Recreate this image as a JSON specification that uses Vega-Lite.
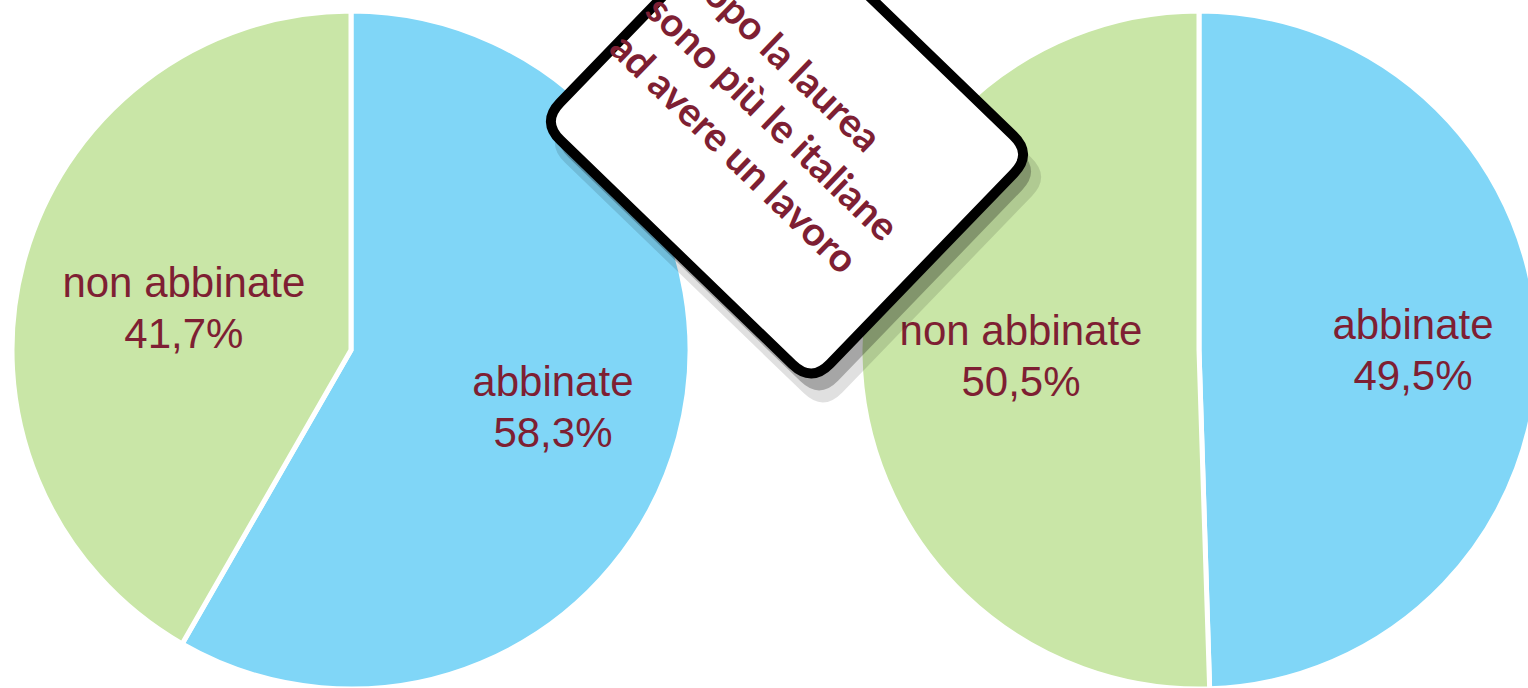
{
  "$schema": "https://vega.github.io/schema/vega-lite/v6.json",
  "width": 1528,
  "height": 676,
  "padding": {"left": 0, "top": 12, "right": 0, "bottom": 0},
  "autosize": {"type": "none"},
  "background": "white",
  "config": {"view": {"stroke": null}},
  "datasets": {
    "torte": [
      {"gruppo": "italiane", "categoria": "abbinate", "valore": 58.3, "etichetta": "abbinate\n58,3%"},
      {"gruppo": "italiane", "categoria": "non abbinate", "valore": 41.7, "etichetta": "non abbinate\n41,7%"},
      {"gruppo": "straniere", "categoria": "abbinate", "valore": 49.5, "etichetta": "abbinate\n49,5%"},
      {"gruppo": "straniere", "categoria": "non abbinate", "valore": 50.5, "etichetta": "non abbinate\n50,5%"}
    ],
    "nota": [
      {"testo": "Dopo la laurea\nsono più le italiane\nad avere un lavoro"}
    ]
  },
  "layer": [
    {
      "data": {"name": "torte"},
      "layer": [
        {
          "transform": [{"filter": "datum.gruppo == 'italiane'"}],
          "mark": {"type": "arc", "radius": 339, "stroke": "white", "strokeWidth": 5},
          "encoding": {
            "theta": {"field": "valore", "type": "quantitative", "stack": true, "scale": {"domain": [0, 100]}},
            "color": {"field": "categoria", "type": "nominal", "scale": {"domain": ["abbinate", "non abbinate"], "range": ["#80D6F7", "#C9E6A7"]}, "legend": null},
            "x": {"field": "gruppo", "type": "nominal", "scale": {"type": "point", "domain": ["italiane", "straniere"], "range": [351, 1199], "padding": 0}, "axis": null}
          }
        },
        {
          "transform": [{"filter": "datum.gruppo == 'straniere'"}],
          "mark": {"type": "arc", "radius": 339, "stroke": "white", "strokeWidth": 5},
          "encoding": {
            "theta": {"field": "valore", "type": "quantitative", "stack": true, "scale": {"domain": [0, 100]}},
            "color": {"field": "categoria", "type": "nominal", "scale": {"domain": ["abbinate", "non abbinate"], "range": ["#80D6F7", "#C9E6A7"]}, "legend": null},
            "x": {"field": "gruppo", "type": "nominal", "axis": null}
          }
        },
        {
          "transform": [{"filter": "datum.gruppo == 'italiane'"}],
          "mark": {"type": "text", "radius": 209, "dy": -21, "font": "Liberation Sans", "fontSize": 42, "lineHeight": 51, "lineBreak": "\n", "color": "#7E1F33", "align": "center", "baseline": "middle"},
          "encoding": {
            "theta": {"field": "valore", "type": "quantitative", "stack": true, "scale": {"domain": [0, 100]}},
            "detail": {"field": "categoria", "type": "nominal"},
            "text": {"field": "etichetta", "type": "nominal"},
            "opacity": {"condition": {"test": "datum.categoria == 'abbinate'", "value": 1}, "value": 0},
            "x": {"field": "gruppo", "type": "nominal", "axis": null}
          }
        },
        {
          "transform": [{"filter": "datum.gruppo == 'italiane'"}],
          "mark": {"type": "text", "radius": 173, "dy": -21, "font": "Liberation Sans", "fontSize": 42, "lineHeight": 51, "lineBreak": "\n", "color": "#7E1F33", "align": "center", "baseline": "middle"},
          "encoding": {
            "theta": {"field": "valore", "type": "quantitative", "stack": true, "scale": {"domain": [0, 100]}},
            "detail": {"field": "categoria", "type": "nominal"},
            "text": {"field": "etichetta", "type": "nominal"},
            "opacity": {"condition": {"test": "datum.categoria == 'non abbinate'", "value": 1}, "value": 0},
            "x": {"field": "gruppo", "type": "nominal", "axis": null}
          }
        },
        {
          "transform": [{"filter": "datum.gruppo == 'straniere'"}],
          "mark": {"type": "text", "radius": 214, "dy": -21, "font": "Liberation Sans", "fontSize": 42, "lineHeight": 51, "lineBreak": "\n", "color": "#7E1F33", "align": "center", "baseline": "middle"},
          "encoding": {
            "theta": {"field": "valore", "type": "quantitative", "stack": true, "scale": {"domain": [0, 100]}},
            "detail": {"field": "categoria", "type": "nominal"},
            "text": {"field": "etichetta", "type": "nominal"},
            "opacity": {"condition": {"test": "datum.categoria == 'abbinate'", "value": 1}, "value": 0},
            "x": {"field": "gruppo", "type": "nominal", "axis": null}
          }
        },
        {
          "transform": [{"filter": "datum.gruppo == 'straniere'"}],
          "mark": {"type": "text", "radius": 178, "dy": -21, "font": "Liberation Sans", "fontSize": 42, "lineHeight": 51, "lineBreak": "\n", "color": "#7E1F33", "align": "center", "baseline": "middle"},
          "encoding": {
            "theta": {"field": "valore", "type": "quantitative", "stack": true, "scale": {"domain": [0, 100]}},
            "detail": {"field": "categoria", "type": "nominal"},
            "text": {"field": "etichetta", "type": "nominal"},
            "opacity": {"condition": {"test": "datum.categoria == 'non abbinate'", "value": 1}, "value": 0},
            "x": {"field": "gruppo", "type": "nominal", "axis": null}
          }
        }
      ]
    },
    {
      "data": {"name": "nota"},
      "layer": [
        {
          "mark": {"type": "point", "shape": "M -0.7575 -0.7475 L 0.7575 -0.7475 Q 0.8825 -0.7475 0.8825 -0.6225 L 0.8825 0.6225 Q 0.8825 0.7475 0.7575 0.7475 L -0.7575 0.7475 Q -0.8825 0.7475 -0.8825 0.6225 L -0.8825 -0.6225 Q -0.8825 -0.7475 -0.7575 -0.7475 Z", "size": 192000, "angle": 44, "filled": true, "fill": "black", "fillOpacity": 0.12, "strokeWidth": 0, "xOffset": 11, "yOffset": 22},
          "encoding": {
            "x": {"datum": 787, "type": "quantitative", "scale": {"domain": [0, 1528], "nice": false, "zero": false}, "axis": null},
            "y": {"datum": 138, "type": "quantitative", "scale": {"domain": [688, 12], "nice": false, "zero": false}, "axis": null}
          }
        },
        {
          "mark": {"type": "point", "shape": "M -0.7575 -0.7475 L 0.7575 -0.7475 Q 0.8825 -0.7475 0.8825 -0.6225 L 0.8825 0.6225 Q 0.8825 0.7475 0.7575 0.7475 L -0.7575 0.7475 Q -0.8825 0.7475 -0.8825 0.6225 L -0.8825 -0.6225 Q -0.8825 -0.7475 -0.7575 -0.7475 Z", "size": 181000, "angle": 44, "filled": true, "fill": "black", "fillOpacity": 0.26, "strokeWidth": 0, "xOffset": 8, "yOffset": 17},
          "encoding": {
            "x": {"datum": 787, "type": "quantitative"},
            "y": {"datum": 138, "type": "quantitative"}
          }
        },
        {
          "mark": {"type": "point", "shape": "M -0.7575 -0.7475 L 0.7575 -0.7475 Q 0.8825 -0.7475 0.8825 -0.6225 L 0.8825 0.6225 Q 0.8825 0.7475 0.7575 0.7475 L -0.7575 0.7475 Q -0.8825 0.7475 -0.8825 0.6225 L -0.8825 -0.6225 Q -0.8825 -0.7475 -0.7575 -0.7475 Z", "size": 181000, "angle": 44, "filled": true, "fill": "white", "fillOpacity": 1, "opacity": 1, "stroke": "black", "strokeWidth": 10},
          "encoding": {
            "x": {"datum": 787, "type": "quantitative"},
            "y": {"datum": 138, "type": "quantitative"}
          }
        },
        {
          "mark": {"type": "text", "angle": 44, "align": "left", "baseline": "middle", "font": "Lato", "fontWeight": "bold", "fontSize": 40, "lineHeight": 52, "lineBreak": "\n", "color": "#7E1F33"},
          "encoding": {
            "text": {"field": "testo", "type": "nominal"},
            "x": {"datum": 688, "type": "quantitative"},
            "y": {"datum": -33, "type": "quantitative"}
          }
        }
      ]
    }
  ],
  "resolve": {"scale": {"x": "independent", "y": "independent"}}
}
